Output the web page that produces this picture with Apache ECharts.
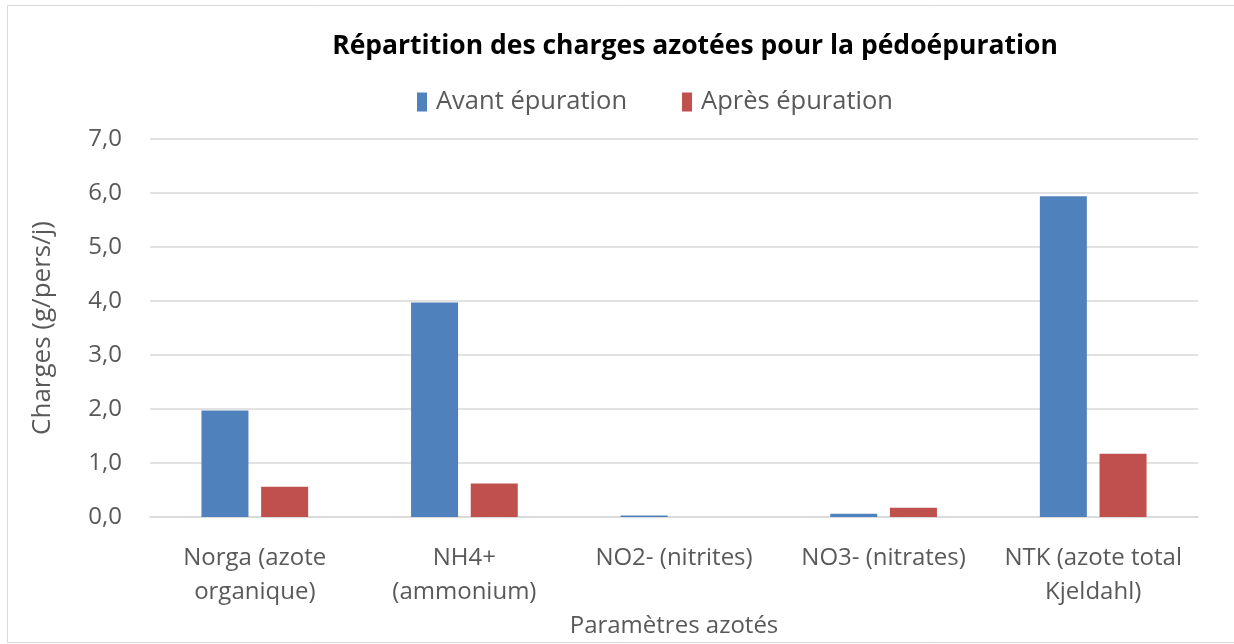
<!DOCTYPE html>
<html>
<head>
<meta charset="utf-8">
<script src="https://cdn.jsdelivr.net/npm/echarts@6/dist/echarts.min.js"></script>
<style>
html,body{margin:0;padding:0;background:#fff;}
#chart{width:1234px;height:644px;}
</style>
</head>
<body>
<div id="chart"></div>
<script>
const title = "Répartition des charges azotées pour la pédoépuration";
const categories = ["Norga (azote\norganique)", "NH4+\n(ammonium)", "NO2- (nitrites)", "NO3- (nitrates)", "NTK (azote total\nKjeldahl)"];
const seriesNames = ["Avant épuration", "Après épuration"];
const avant = [1.97, 3.97, 0.03, 0.06, 5.94];
const apres = [0.56, 0.62, 0.0, 0.17, 1.17];
const yTicks = { min: 0, max: 7, interval: 1 };
const xName = "Paramètres azotés";
const yName = "Charges (g/pers/j)";

const FONT = "'Open Sans', sans-serif";
const chart = echarts.init(document.getElementById('chart'), null, {renderer: 'canvas'});
chart.setOption({
  animation: false,
  backgroundColor: '#fff',
  title: {
    text: title, left: 690, top: 28, textAlign: 'center',
    textStyle: { fontFamily: FONT, fontSize: 26.5, fontWeight: 'bold', color: '#000' }
  },
  legend: {
    data: seriesNames, left: 412, top: 84, itemWidth: 10, itemHeight: 19, itemGap: 55,
    icon: 'rect',
    textStyle: { fontFamily: FONT, fontSize: 25.5, color: '#595959', padding: [0, 0, 0, 4] }
  },
  graphic: [{
    type: 'rect', shape: { x: 7.5, y: 5.5, width: 1250, height: 637 },
    style: { fill: 'none', stroke: '#d9d9d9', lineWidth: 1 }, silent: true, z: -1
  }],
  grid: { left: 150, right: 36, top: 139, bottom: 127 },
  xAxis: {
    type: 'category', data: categories,
    name: xName, nameLocation: 'middle', nameGap: 94,
    nameTextStyle: { fontFamily: FONT, fontSize: 24, color: '#595959' },
    axisLine: { lineStyle: { color: '#d9d9d9', width: 1.5 } },
    axisTick: { show: false },
    axisLabel: { fontFamily: FONT, fontSize: 24, color: '#595959', margin: 24, lineHeight: 34, interval: 0 }
  },
  yAxis: {
    type: 'value', min: yTicks.min, max: yTicks.max, interval: yTicks.interval,
    name: yName, nameLocation: 'middle', nameGap: 94, nameRotate: 90,
    nameTextStyle: { fontFamily: FONT, fontSize: 26, color: '#595959' },
    axisLine: { show: false }, axisTick: { show: false },
    axisLabel: { fontFamily: FONT, fontSize: 24, color: '#595959', margin: 28,
      formatter: v => v.toFixed(1).replace('.', ',') },
    splitLine: { lineStyle: { color: '#d9d9d9', width: 1.5 } }
  },
  series: [
    { name: seriesNames[0], type: 'bar', data: avant, barWidth: 47, barGap: '27%',
      itemStyle: { color: '#4F81BD' } },
    { name: seriesNames[1], type: 'bar', data: apres, barWidth: 47,
      itemStyle: { color: '#C0504D' } }
  ]
});
</script>
</body>
</html>
